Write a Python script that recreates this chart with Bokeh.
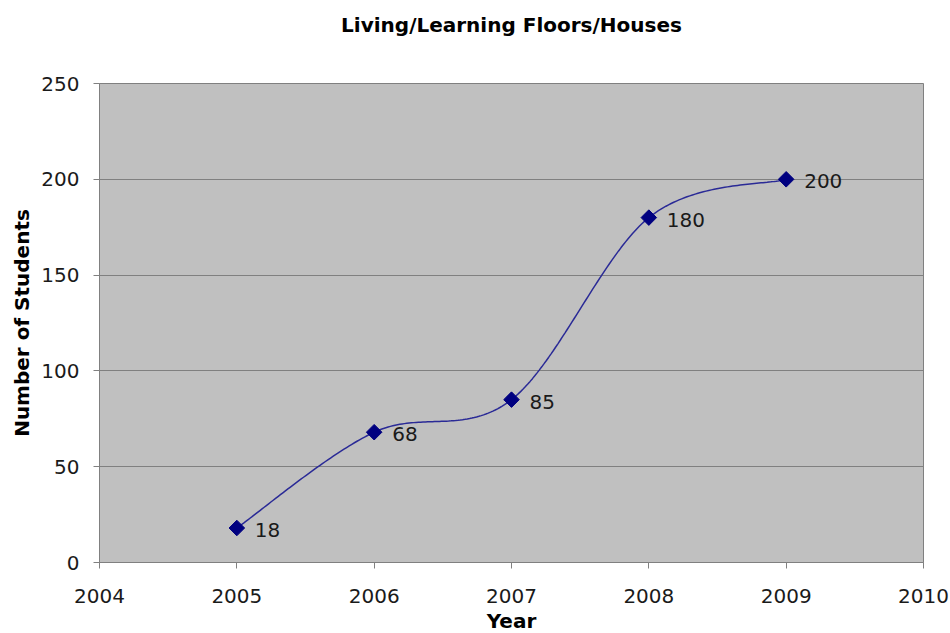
import numpy as np
from bokeh.plotting import figure
from bokeh.models import ColumnDataSource, Range1d, FixedTicker
from bokeh.embed import file_html
from bokeh.resources import INLINE

title_text = "Living/Learning Floors/Houses"
years = [2005, 2006, 2007, 2008, 2009]
students = [18, 68, 85, 180, 200]
labels = ["18", "68", "85", "180", "200"]
x_ticks = [2004, 2005, 2006, 2007, 2008, 2009, 2010]
y_ticks = [0, 50, 100, 150, 200, 250]

# Excel-style smoothed line (Catmull-Rom Bezier through the data points)
def smooth(xs, ys, n=60):
    pts = np.column_stack([xs, ys]).astype(float)
    ext = np.vstack([pts[0], pts, pts[-1]])
    out = []
    for i in range(1, len(ext) - 2):
        p0, p1, p2, p3 = ext[i - 1], ext[i], ext[i + 1], ext[i + 2]
        c1 = p1 + (p2 - p0) / 6.0
        c2 = p2 - (p3 - p1) / 6.0
        t = np.linspace(0, 1, n)[:, None]
        seg = ((1 - t) ** 3) * p1 + 3 * ((1 - t) ** 2) * t * c1 + 3 * (1 - t) * t ** 2 * c2 + t ** 3 * p2
        out.append(seg if i == 1 else seg[1:])
    c = np.vstack(out)
    return c[:, 0], c[:, 1]

sx, sy = smooth(years, students)

FONT = "DejaVu Sans"
GRAY = "#808080"
TXT = "#1a1a1a"

p = figure(width=950, height=633, output_backend="svg", toolbar_location=None,
           x_range=Range1d(2004, 2010), y_range=Range1d(0, 250),
           title=title_text + "\n ",
           min_border_left=99, min_border_right=27, min_border_top=83, min_border_bottom=71)
p.frame_width = 824
p.frame_height = 479

p.title.align = "center"
p.title.vertical_align = "top"
p.title.text_font = FONT
p.title.text_font_size = "20px"
p.title.text_font_style = "bold"
p.title.text_color = "black"
p.title.text_line_height = 1.4
p.title.standoff = 22
p.border_fill_color = "white"
p.background_fill_color = "#C0C0C0"
p.outline_line_color = GRAY
p.outline_line_width = 1

p.xgrid.grid_line_color = None
p.ygrid.grid_line_color = GRAY
p.ygrid.grid_line_width = 1

p.xaxis.ticker = FixedTicker(ticks=x_ticks)
p.yaxis.ticker = FixedTicker(ticks=y_ticks)
for ax in (p.xaxis[0], p.yaxis[0]):
    ax.axis_line_color = GRAY
    ax.major_tick_line_color = GRAY
    ax.major_tick_out = 6
    ax.major_tick_in = 0
    ax.minor_tick_line_color = None
    ax.major_label_text_font = FONT
    ax.major_label_text_font_size = "20px"
    ax.major_label_text_color = TXT
    ax.axis_label_text_font = FONT
    ax.axis_label_text_font_size = "20px"
    ax.axis_label_text_font_style = "bold"
    ax.axis_label_text_color = "black"
p.xaxis.axis_label = "Year"
p.yaxis.axis_label = "Number of Students"
p.xaxis.major_label_standoff = 20
p.yaxis.major_label_standoff = 14
p.xaxis.axis_label_standoff = 3
p.yaxis.axis_label_standoff = 4

p.line(sx, sy, line_color="#2A2A96", line_width=1.5)

src = ColumnDataSource(dict(x=years, y=students, t=labels))
p.scatter("x", "y", source=src, marker="square", angle=np.pi / 4, size=11,
          fill_color="#000080", line_color="#000080")
p.text("x", "y", text="t", source=src, x_offset=18, y_offset=2,
       text_baseline="middle", text_align="left", text_font_size="20px",
       text_color=TXT, text_font={"value": FONT})

open("out.html", "w").write(file_html(p, INLINE))
